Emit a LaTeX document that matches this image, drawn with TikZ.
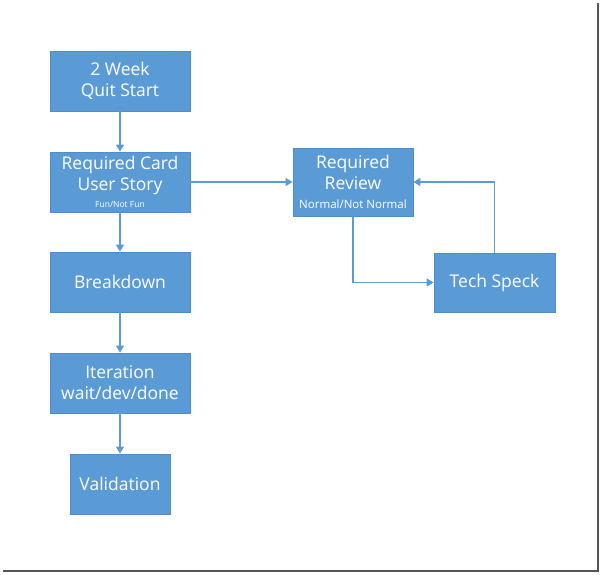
\documentclass[tikz,border=0pt]{standalone}
\usepackage{fontspec}
\setmainfont{Open Sans}
\usetikzlibrary{arrows.meta}
\definecolor{boxblue}{HTML}{5B9BD5}
\definecolor{boxedge}{HTML}{4F8CC9}
\definecolor{shadowgray}{HTML}{555555}
\tikzset{
  flowbox/.style={draw=boxedge, line width=0.8pt, fill=boxblue, text=white, inner sep=0pt, align=center, font=\fontsize{17.5}{21}\selectfont},
  conn/.style={draw=boxblue, line width=1.2pt, -{Triangle[length=7pt,width=8pt]}},
  framebar/.style={draw=shadowgray, line width=2.5pt}
}
\begin{document}
\begin{tikzpicture}[x=1pt,y=-1pt]
\useasboundingbox (0,0) rectangle (602,574);
\fill[white] (0,0) rectangle (602,574);
\coordinate (fr1) at (598,3);
\coordinate (fr2) at (598,571);
\coordinate (fr3) at (3,571);
\draw[framebar] (fr1) -- (fr2) -- (fr3);

\node[flowbox, minimum width=140pt, minimum height=60pt] (quit) at (120,81) {2 Week\\Quit Start};
\node[flowbox, minimum width=140pt, minimum height=60pt] (card) at (120,182) {Required Card\\User Story\\[-4pt]{\fontsize{8.5}{9}\selectfont Fun/Not Fun}};
\node[flowbox, minimum width=140pt, minimum height=60pt] (brk) at (120,282) {Breakdown};
\node[flowbox, minimum width=140pt, minimum height=60pt] (iter) at (120,383) {Iteration\\wait/dev/done};
\node[flowbox, minimum width=100pt, minimum height=60pt] (valid) at (120,484) {Validation};
\node[flowbox, minimum width=120pt, minimum height=68pt] (review) at (353,182) {Required\\Review\\[-2pt]{\fontsize{11.5}{13}\selectfont Normal/Not Normal}};
\node[flowbox, minimum width=121pt, minimum height=59pt] (tech) at (494.5,282.5) {Tech Speck};

\draw[conn] (quit) -- (card);
\draw[conn] (card) -- (brk);
\draw[conn] (brk) -- (iter);
\draw[conn] (iter) -- (valid);
\draw[conn] (card.east) -- (review.west);
\draw[conn] (review.south) |- (tech.west);
\draw[conn] (tech.north) |- (review.east);
\end{tikzpicture}
\end{document}
